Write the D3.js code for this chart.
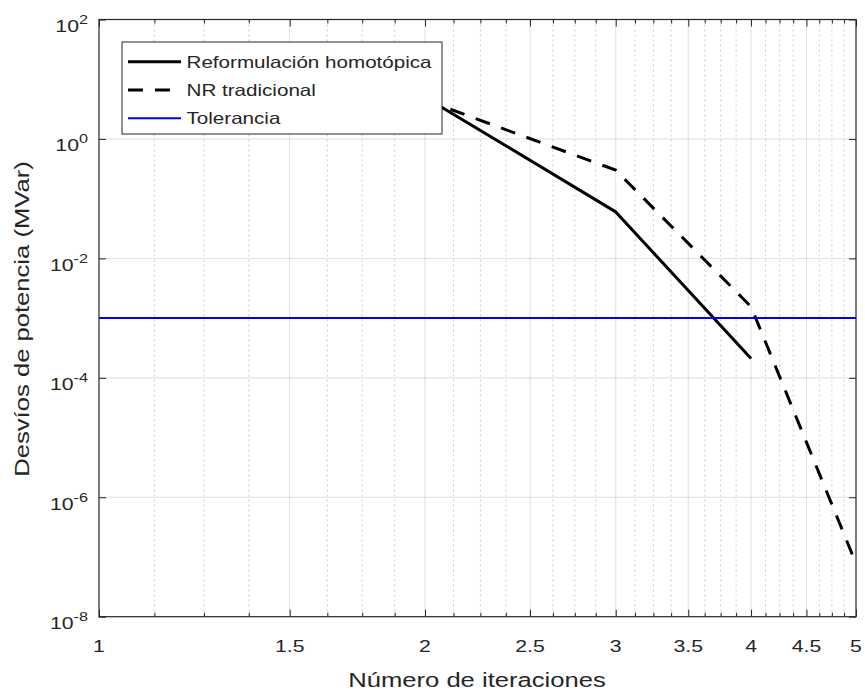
<!DOCTYPE html>
<html><head><meta charset="utf-8">
<script src="https://cdn.jsdelivr.net/npm/d3@7"></script>
<style>
body{margin:0;background:#fff}
text{font-family:"Liberation Sans",Arial,Helvetica,sans-serif;fill:#262626}
</style>
</head><body>
<svg id="chart" width="865" height="697"></svg>
<script>
// ---- data ----
const homotopicIter = [2, 3, 4];
const homotopicDev  = [5.0, 0.06, 2.1e-4];
const nrIter = [2, 3, 4, 5];
const nrDev  = [4.5, 0.3, 1.55e-3, 7.8e-8];
const tolerance = 1e-3;
const xTicks = [1, 1.5, 2, 2.5, 3, 3.5, 4, 4.5, 5];
const xTickLabels = ["1", "1.5", "2", "2.5", "3", "3.5", "4", "4.5", "5"];
const yTicks = [1e-8, 1e-6, 1e-4, 1e-2, 1e0, 1e2];
const yTickExponents = ["-8", "-6", "-4", "-2", "0", "2"];
const legendLabels = ["Reformulación homotópica", "NR tradicional", "Tolerancia"];
const xLabel = "Número de iteraciones";
const yLabel = "Desvíos de potencia (MVar)";

// ---- layout ----
const L = 99, R = 856, T = 19.5, B = 616.7;
const SX = 1.25; // horizontal glyph stretch of the reference
const axisColor = "#262626";

const svg = d3.select("#chart");
const x = d3.scaleLog().domain([1, 5]).range([L, R]);
const y = d3.scaleLog().domain([1e-8, 1e2]).range([B, T]);

const minorX = d3.range(9, 40).map(k => k / 8).filter(v => !xTicks.some(t => Math.abs(t - v) < 1e-9));

svg.append("defs").append("clipPath").attr("id", "clip")
  .append("rect").attr("x", L).attr("y", T).attr("width", R - L).attr("height", B - T);

// ---- grid ----
const grid = svg.append("g");
grid.selectAll("line.mx").data(minorX).join("line")
  .attr("x1", d => x(d)).attr("x2", d => x(d)).attr("y1", T).attr("y2", B)
  .attr("stroke", "#262626").attr("stroke-opacity", 0.22).attr("stroke-width", 1)
  .attr("stroke-dasharray", "2,3");
grid.selectAll("line.gx").data(xTicks.slice(1, -1)).join("line")
  .attr("x1", d => x(d)).attr("x2", d => x(d)).attr("y1", T).attr("y2", B)
  .attr("stroke", "#262626").attr("stroke-opacity", 0.15).attr("stroke-width", 1);
grid.selectAll("line.gy").data(yTicks.slice(1, -1)).join("line")
  .attr("y1", d => y(d)).attr("y2", d => y(d)).attr("x1", L).attr("x2", R)
  .attr("stroke", "#262626").attr("stroke-opacity", 0.15).attr("stroke-width", 1);

// ---- data lines ----
const plot = svg.append("g").attr("clip-path", "url(#clip)");
const line = d3.line().x(d => x(d[0])).y(d => y(d[1]));
plot.append("path").datum(homotopicIter.map((v, i) => [v, homotopicDev[i]]))
  .attr("d", line).attr("fill", "none").attr("stroke", "#000").attr("stroke-width", 3)
  .attr("stroke-linejoin", "round");
plot.append("path").datum(nrIter.map((v, i) => [v, nrDev[i]]))
  .attr("d", line).attr("fill", "none").attr("stroke", "#000").attr("stroke-width", 3)
  .attr("stroke-dasharray", "15,12");
plot.append("line")
  .attr("x1", L).attr("x2", R).attr("y1", y(tolerance)).attr("y2", y(tolerance))
  .attr("stroke", "#0000ff").attr("stroke-width", 2);

// ---- axes (inward ticks, all four sides) ----
function styleAxis(g) {
  g.select(".domain").remove();
  g.selectAll("line").attr("stroke", axisColor);
  g.selectAll("text").remove();
}
svg.append("g").attr("transform", `translate(0,${B})`)
  .call(d3.axisBottom(x).tickValues(xTicks).tickSize(-7).tickFormat("")).call(styleAxis);
svg.append("g").attr("transform", `translate(0,${B})`)
  .call(d3.axisBottom(x).tickValues(minorX).tickSize(-4).tickFormat("")).call(styleAxis);
svg.append("g").attr("transform", `translate(0,${T})`)
  .call(d3.axisTop(x).tickValues(xTicks).tickSize(-7).tickFormat("")).call(styleAxis);
svg.append("g").attr("transform", `translate(0,${T})`)
  .call(d3.axisTop(x).tickValues(minorX).tickSize(-4).tickFormat("")).call(styleAxis);
svg.append("g").attr("transform", `translate(${L},0)`)
  .call(d3.axisLeft(y).tickValues(yTicks).tickSize(-7).tickFormat("")).call(styleAxis);
svg.append("g").attr("transform", `translate(${R},0)`)
  .call(d3.axisRight(y).tickValues(yTicks).tickSize(-7).tickFormat("")).call(styleAxis);

svg.append("rect").attr("x", L).attr("y", T).attr("width", R - L).attr("height", B - T)
  .attr("fill", "none").attr("stroke", axisColor).attr("stroke-width", 1.2);

// ---- tick labels ----
svg.append("g").selectAll("text").data(xTicks).join("text")
  .attr("transform", d => `translate(${x(d)},${B + 35}) scale(${SX},1)`)
  .attr("text-anchor", "middle").attr("font-size", 17)
  .text((d, i) => xTickLabels[i]);

const yl = svg.append("g").selectAll("text").data(yTicks).join("text")
  .attr("transform", d => `translate(${L - 11},${y(d) + 12.5}) scale(${SX},1)`)
  .attr("text-anchor", "end").attr("font-size", 17);
yl.append("tspan").text("10");
yl.append("tspan").attr("dy", -8).attr("font-size", 13).text((d, i) => yTickExponents[i]);

// ---- axis labels ----
svg.append("text")
  .attr("transform", `translate(${(L + R) / 2 - 0.5},${B + 70}) scale(${SX},1)`)
  .attr("text-anchor", "middle").attr("font-size", 20.5).text(xLabel);
svg.append("text")
  .attr("transform", `translate(29,319) rotate(-90) scale(${SX},1)`)
  .attr("text-anchor", "middle").attr("font-size", 20.5).text(yLabel);

// ---- legend ----
const lg = svg.append("g");
lg.append("rect").attr("x", 122).attr("y", 42).attr("width", 320).attr("height", 92)
  .attr("fill", "#fff").attr("stroke", axisColor).attr("stroke-width", 1);
const legendStyles = [
  {color: "#000", width: 3, dash: null},
  {color: "#000", width: 3, dash: "15,12"},
  {color: "#0000ff", width: 2, dash: null}
];
legendLabels.forEach((lab, i) => {
  const cy = 61.7 + i * 28.3;
  lg.append("line").attr("x1", 128).attr("x2", 181).attr("y1", cy).attr("y2", cy)
    .attr("stroke", legendStyles[i].color).attr("stroke-width", legendStyles[i].width)
    .attr("stroke-dasharray", legendStyles[i].dash);
  lg.append("text").attr("transform", `translate(186.5,${cy + 6}) scale(${SX},1)`)
    .attr("font-size", 16.5).text(lab);
});
</script>
</body></html>
